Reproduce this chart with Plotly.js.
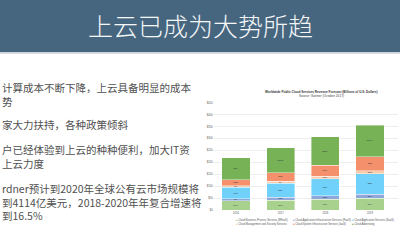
<!DOCTYPE html>
<html>
<head>
<meta charset="utf-8">
<script src="https://cdn.plot.ly/plotly-3.0.1.min.js"></script>
<style>html,body{margin:0;padding:0;background:#fff;}#chart{width:400px;height:250px;}</style>
</head>
<body>
<div id="chart"></div>
<script>
// ---- data ----
const years = ["2016", "2017", "2018", "2019"];
const seriesNames = [
  "Cloud Business Process Services (BPaaS)",
  "Cloud Application Infrastructure Services (PaaS)",
  "Cloud Application Services (SaaS)",
  "Cloud Management and Security Services",
  "Cloud System Infrastructure Services (IaaS)",
  "Cloud Advertising"
];
const bpaas = [40.8, 42.6, 45.8, 49.4];
const paas = [7.2, 11.9, 15.0, 18.6];
const saas = [48.2, 58.8, 71.2, 84.8];
const mgmt = [7.0, 8.7, 10.3, 11.9];
const iaas = [25.4, 34.6, 45.8, 58.4];
const advertising = [90.3, 104.5, 118.5, 133.6];
const totals = [219.6, 260.2, 305.8, 356.7];
const yTickVals = [0, 50, 100, 150, 200, 250, 300, 350, 400, 450];
const yTickText = ["$0", "$50", "$100", "$150", "$200", "$250", "$300", "$350", "$400", "$450"];
const slideTitle = "上云已成为大势所趋";
const chartTitle = "Worldwide Public Cloud Services Revenue Forecast (Billions of U.S. Dollars)";
const chartSubtitle = "Source: Gartner (October 2017)";
// visible part of the slide's bullet text (left edge of the slide is cropped)
const bulletLines = [
  ["计算成本不断下降，上云具备明显的成本", "势"],
  ["家大力扶持，各种政策倾斜"],
  ["户已经体验到上云的种种便利，加大IT资", "上云力度"],
  ["rdner预计到2020年全球公有云市场规模将", "到4114亿美元，2018-2020年年复合增速将", "到16.5%"]
];

// ---- styles ----
const W = 400, H = 250;
const px = x => x / W;
const py = y => 1 - y / H;
const colors = ["#a9d18e", "#8fa8dc", "#70d2fb", "#f8cbad", "#f4916c", "#77b356"];
const seriesValues = [bpaas, paas, saas, mgmt, iaas, advertising];

const traces = seriesValues.map((vals, i) => ({
  type: "bar",
  x: years,
  y: vals,
  name: seriesNames[i],
  marker: {color: colors[i], line: {color: "#ffffff", width: 0.4}},
  text: vals.map(v => "$" + Math.round(v)),
  textposition: "inside",
  insidetextanchor: "middle",
  textangle: 0,
  constraintext: "none",
  textfont: {size: 2.5, color: "#333333", family: "Liberation Sans"},
  hoverinfo: "skip",
  showlegend: false,
  width: 0.63
}));

const annotations = [];
// slide title
annotations.push({xref: "paper", yref: "paper", x: 0.5, y: py(25), xanchor: "center", yanchor: "middle",
  text: slideTitle, showarrow: false, font: {size: 25, color: "#f4f6f8", family: "Noto Sans CJK SC", weight: 300}});
// bullets (one block per paragraph)
const paraTops = [88, 124, 149.5, 188];
const lineGap = 1.3 * 10.5;
bulletLines.forEach((para, pi) => {
  const centre = paraTops[pi] + (para.length - 1) * lineGap / 2;
  annotations.push({xref: "paper", yref: "paper", x: px(0.5), y: py(centre),
    xanchor: "left", yanchor: "middle", align: "left", text: para.join("<br>"), showarrow: false, borderpad: 0,
    font: {size: 10.5, color: "#505050", family: "Noto Sans CJK SC"}});
});
// chart title
annotations.push({xref: "paper", yref: "paper", x: px(321), y: py(91.7), xanchor: "center", yanchor: "middle",
  text: "<b>" + chartTitle + "</b>", showarrow: false, borderpad: 0, font: {size: 3.1, color: "#333333", family: "Liberation Sans"}});
annotations.push({xref: "paper", yref: "paper", x: px(321), y: py(96.3), xanchor: "center", yanchor: "middle",
  text: chartSubtitle, showarrow: false, borderpad: 0, font: {size: 3.2, color: "#444444", family: "Liberation Sans"}});
// totals
years.forEach((yr, i) => {
  annotations.push({xref: "x", yref: "y", x: yr, y: totals[i], yanchor: "bottom", yshift: 1.2,
    text: "$" + totals[i].toFixed(1) + "B", showarrow: false,
    font: {size: 2.6, color: "#333333", family: "Liberation Sans"},
    bgcolor: "#ffffff", bordercolor: "#cccccc", borderwidth: 0.4, borderpad: 0.4});
});
// legend (manual)
const colX = [234.5, 291.5, 351];
const rowY = [220, 224.4];
seriesNames.forEach((nm, i) => {
  const c = i % 3, r = Math.floor(i / 3);
  annotations.push({xref: "paper", yref: "paper", x: px(colX[c]), y: py(rowY[r]), xanchor: "left", yanchor: "middle",
    text: '<span style="color:' + colors[i] + '">■</span> ' + nm, showarrow: false, borderpad: 0,
    font: {size: 2.6, color: "#555555", family: "Liberation Sans"}});
});

const layout = {
  width: W, height: H, autosize: false,
  margin: {l: 0, r: 0, t: 0, b: 0, pad: 0},
  paper_bgcolor: "#ffffff", plot_bgcolor: "#ffffff",
  barmode: "stack",
  showlegend: false,
  xaxis: {domain: [px(213.6), px(398)], range: [-0.5, 3.625], type: "category",
    showgrid: false, zeroline: false, showline: false, ticks: "",
    tickfont: {size: 2.7, color: "#555555", family: "Liberation Sans"}, ticklabelstandoff: 0.5, fixedrange: true},
  yaxis: {domain: [py(210.3), py(102.7)], range: [0, 450], tickvals: yTickVals, ticktext: yTickText,
    showgrid: true, gridcolor: "#dedede", gridwidth: 0.5, zeroline: false, showline: false, ticks: "",
    tickfont: {size: 2.6, color: "#555555", family: "Liberation Sans"}, ticklabelstandoff: 1.5, fixedrange: true},
  shapes: [
    {type: "rect", xref: "paper", yref: "paper", x0: 0, x1: 1, y0: py(52.3), y1: 1, fillcolor: "#46667f", line: {width: 0}, layer: "below"},
    {type: "line", xref: "paper", yref: "paper", x0: 0, x1: 1, y0: py(53.2), y1: py(53.2), line: {color: "#c8d2dc", width: 1.2}, layer: "below"}
  ],
  annotations: annotations,
  uniformtext: {mode: false}
};

Plotly.newPlot("chart", traces, layout, {staticPlot: true, displayModeBar: false});
</script>
</body>
</html>
